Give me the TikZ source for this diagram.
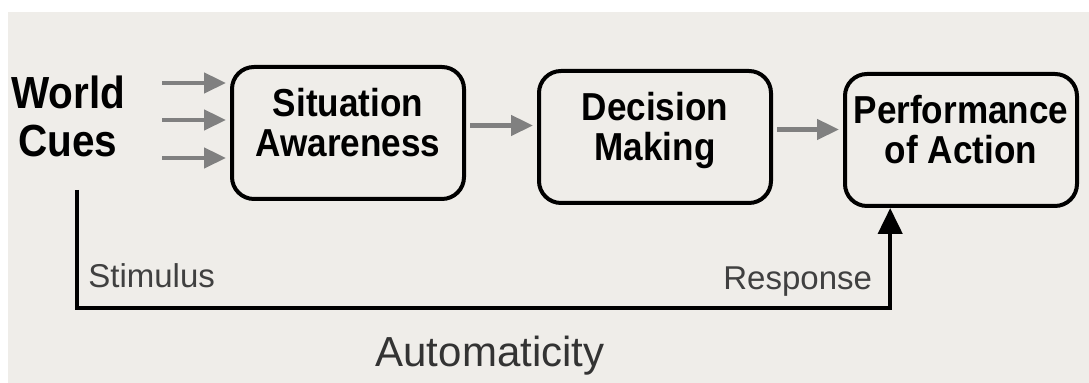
\documentclass[tikz,border=0pt]{standalone}
\usepackage{fontspec}
\setmainfont{Liberation Sans}
\newfontfamily\boxfont{Liberation Sans}[FakeStretch=0.9]
\usetikzlibrary{positioning}
\usetikzlibrary{arrows.meta,shapes}
\usetikzlibrary{calc}
\definecolor{paper}{HTML}{EFEDE9}
\definecolor{cuegray}{gray}{0.5}
\tikzstyle{stage}=[rectangle,rounded corners=11pt,draw=black,line width=2pt,minimum width=116pt,minimum height=66pt,align=center,inner sep=0pt,text depth=11pt,font=\boxfont\bfseries\fontsize{19.5}{20}\selectfont]
\tikzstyle{cue} = [draw=cuegray,line width=2.3pt,-{Triangle[width=10pt,length=11pt]},shorten <=2pt,shorten >=2pt]
\tikzstyle{feedback} = [draw,line width=2.2pt,-{Triangle[width=12pt,length=13pt]}]
\tikzstyle{weight} = [font=\fontsize{16.5}{18}\selectfont,text=black!75,inner sep=0pt]

\begin{document}
\begin{tikzpicture}[x=0.5pt,y=-0.5pt]
  \fill[white] (0,0) rectangle (1089,383);
  \fill[paper] (8,12) rectangle (1089,383);
  \useasboundingbox (0,0) rectangle (1089,383);

  \node[font=\boxfont\bfseries\fontsize{22.5}{24}\selectfont,align=center,inner sep=0pt] (cues) at (68,116) {World\\Cues};

  \foreach \x/\y/\name/\label in {348/133/sa/{Situation\\Awareness}, 655/137/dm/{Decision\\Making}, 961/140/pa/{Performance\\of Action}}
         \node[stage] (\name) at (\x,\y) {\label};

  \foreach \y/\name in {83/c1, 120/c2, 158/c3}
         \coordinate (\name) at (158,\y);
  \foreach \source in {c1,c2,c3}
         \draw[cue] (\source) -- (\source -| sa.west);

  \foreach \source/\dest in {sa/dm, dm/pa}
         \draw[cue] ([yshift=3.75pt]\source.east) -- ([yshift=3.75pt]\source.east -| \dest.west);

  % automatic path
  \coordinate (stim) at (77,190);
  \coordinate (low) at (77,308);
  \coordinate (hit) at ($(pa.south west)!0.2!(pa.south east)$);
  \draw[feedback] (stim) -- (low) -| (hit);

  \node[weight,anchor=base west] (stimulus) at (88,288) {Stimulus};
  \node[weight,anchor=base west] (response) at (723,290) {Response};
  \node[weight,font=\fontsize{21}{24}\selectfont,text=black!80,anchor=base] (auto) at (490,367) {Automaticity};
\end{tikzpicture}
\end{document}
